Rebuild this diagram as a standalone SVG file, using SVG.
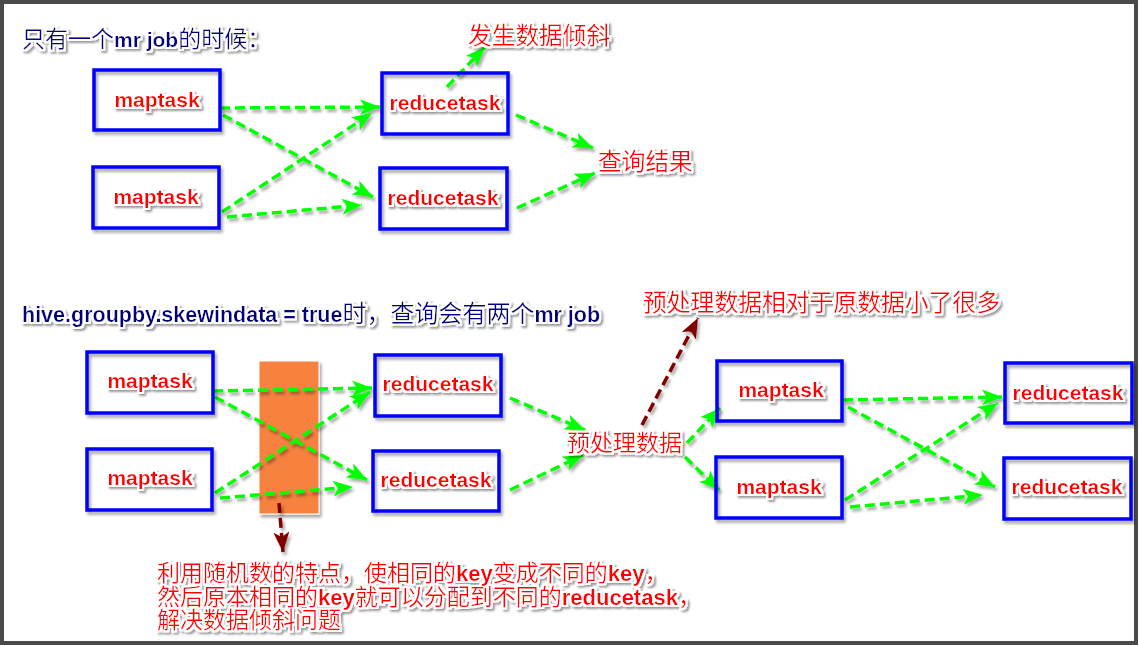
<svg xmlns="http://www.w3.org/2000/svg" width="1139" height="646" viewBox="0 0 1139 646">
<defs>
<style>
.frame{fill:#fff;stroke:#4a4a4a;stroke-width:4}
.box{fill:none;stroke:#0000ff;stroke-width:3.5}
.lbl{font-family:"Liberation Sans","Noto Sans CJK SC",sans-serif;font-weight:bold;font-size:21px;fill:#ff0000;text-anchor:middle}
.cn{font-family:"Noto Sans CJK SC","Liberation Sans",sans-serif;font-size:23px;fill:#ff0000}
.ttl{font-family:"Noto Sans CJK SC","Liberation Sans",sans-serif;font-size:23px;fill:#000080}
.lat{font-family:"Liberation Sans","Noto Sans CJK SC",sans-serif;font-weight:bold;font-size:21px}
.g{fill:none;stroke:#00ff00;stroke-width:3.5;stroke-dasharray:10 5;marker-end:url(#ga)}
.r{fill:none;stroke:#800000;stroke-width:3.5;stroke-dasharray:10 5;marker-end:url(#ra)}
</style>
<filter id="glow" x="-20%" y="-50%" width="140%" height="200%">
<feMorphology in="SourceAlpha" operator="dilate" radius="1.6" result="d"/>
<feGaussianBlur in="d" stdDeviation="0.7" result="db"/>
<feOffset in="db" dx="1.5" dy="1.8" result="sh"/>
<feGaussianBlur in="sh" stdDeviation="1.2" result="shb"/>
<feFlood flood-color="#000" flood-opacity="0.4"/>
<feComposite in2="shb" operator="in" result="shadow"/>
<feFlood flood-color="#fff"/>
<feComposite in2="db" operator="in" result="halo"/>
<feMerge><feMergeNode in="shadow"/><feMergeNode in="halo"/><feMergeNode in="SourceGraphic"/></feMerge>
</filter>
<filter id="sh" x="-10%" y="-10%" width="130%" height="130%">
<feGaussianBlur in="SourceAlpha" stdDeviation="1.5"/>
<feOffset dx="2" dy="2.5" result="o"/>
<feFlood flood-color="#000" flood-opacity="0.35"/>
<feComposite in2="o" operator="in"/>
<feMerge><feMergeNode/><feMergeNode in="SourceGraphic"/></feMerge>
</filter>
<marker id="ga" markerUnits="userSpaceOnUse" markerWidth="20" markerHeight="16" viewBox="0 0 20 16" refX="20" refY="8" orient="auto">
<path d="M0,0 L20,8 L0,16 L5,8 Z" fill="#00ff00"/>
</marker>
<marker id="ra" markerUnits="userSpaceOnUse" markerWidth="20" markerHeight="16" viewBox="0 0 20 16" refX="20" refY="8" orient="auto">
<path d="M0,0 L20,8 L0,16 L5,8 Z" fill="#800000"/>
</marker>
</defs>
<rect class="frame" x="2" y="2" width="1134" height="641"/>

<g id="title1" filter="url(#glow)">
<text class="ttl" x="22" y="47">只有一个<tspan class="lat">mr job</tspan>的时候：</text>
</g>
<g id="title2" filter="url(#glow)">
<text class="ttl" x="22" y="322" style="font-size:24px"><tspan class="lat" style="font-size:21.5px">hive.groupby.skewindata = true</tspan>时，查询会有两个<tspan class="lat" style="font-size:21.5px">mr job</tspan></text>
</g>

<g id="skew-box">
<rect x="259" y="361" width="60" height="153" fill="#f7823f" stroke="#fff" stroke-width="1" filter="url(#sh)"/>
</g>

<g id="connectors" filter="url(#sh)">
<path class="g" d="M220,108 L380,107"/>
<path class="g" d="M223,115 L373,197"/>
<path class="g" d="M222,212 L372,113"/>
<path class="g" d="M227,217 L362,205"/>
<path class="g" d="M447,87 L485,47"/>
<path class="g" d="M516,115 L593,148"/>
<path class="g" d="M517,208 L595,173"/>

<path class="g" d="M213,391 L372,388"/>
<path class="g" d="M215,397 L367,480"/>
<path class="g" d="M215,493 L370,392"/>
<path class="g" d="M220,498 L353,487"/>
<path class="g" d="M510,398 L585,430"/>
<path class="g" d="M510,490 L583,455"/>
<path class="g" d="M687,443 L720,408"/>
<path class="g" d="M685,457 L719,490"/>
<path class="g" d="M843,400 L1002,397"/>
<path class="g" d="M848,407 L995,487"/>
<path class="g" d="M845,500 L998,403"/>
<path class="g" d="M850,507 L983,495"/>
<path class="r" d="M642,425 L698,318"/>
<path class="r" d="M279,503 L283,552"/>
</g>

<g id="map1"><rect class="box" x="94" y="70" width="126" height="60" filter="url(#sh)"/><text class="lbl" x="157" y="107" filter="url(#glow)">maptask</text></g>
<g id="map2"><rect class="box" x="93" y="167" width="126" height="61" filter="url(#sh)"/><text class="lbl" x="156" y="204" filter="url(#glow)">maptask</text></g>
<g id="red1"><rect class="box" x="382" y="73" width="126" height="61" filter="url(#sh)"/><text class="lbl" x="445" y="110" filter="url(#glow)">reducetask</text></g>
<g id="red2"><rect class="box" x="380" y="168" width="127" height="61" filter="url(#sh)"/><text class="lbl" x="443" y="205" filter="url(#glow)">reducetask</text></g>
<g id="skew-label" filter="url(#glow)"><text class="cn" x="468" y="44" style="font-size:23.7px">发生数据倾斜</text></g>
<g id="result" filter="url(#glow)"><text class="cn" x="598" y="170" style="font-size:23.7px">查询结果</text></g>

<g id="mapA"><rect class="box" x="87" y="352" width="126" height="61" filter="url(#sh)"/><text class="lbl" x="150" y="388" filter="url(#glow)">maptask</text></g>
<g id="mapB"><rect class="box" x="87" y="449" width="125" height="61" filter="url(#sh)"/><text class="lbl" x="150" y="485" filter="url(#glow)">maptask</text></g>
<g id="redA"><rect class="box" x="375" y="355" width="126" height="61" filter="url(#sh)"/><text class="lbl" x="438" y="391" filter="url(#glow)">reducetask</text></g>
<g id="redB"><rect class="box" x="373" y="451" width="126" height="60" filter="url(#sh)"/><text class="lbl" x="436" y="487" filter="url(#glow)">reducetask</text></g>
<g id="pre" filter="url(#glow)"><text class="cn" x="567" y="451">预处理数据</text></g>
<g id="pre-note" filter="url(#glow)"><text class="cn" x="643" y="311" style="font-size:23.8px">预处理数据相对于原数据小了很多</text></g>
<g id="mapC"><rect class="box" x="717" y="361" width="125" height="60" filter="url(#sh)"/><text class="lbl" x="781" y="397" filter="url(#glow)">maptask</text></g>
<g id="mapD"><rect class="box" x="716" y="457" width="126" height="61" filter="url(#sh)"/><text class="lbl" x="779" y="494" filter="url(#glow)">maptask</text></g>
<g id="redC"><rect class="box" x="1005" y="363" width="127" height="60" filter="url(#sh)"/><text class="lbl" x="1068" y="400" filter="url(#glow)">reducetask</text></g>
<g id="redD"><rect class="box" x="1004" y="458" width="127" height="61" filter="url(#sh)"/><text class="lbl" x="1067" y="494" filter="url(#glow)">reducetask</text></g>

<g id="explain" filter="url(#glow)">
<text class="cn" x="157" y="581">利用随机数的特点，使相同的<tspan class="lat" style="font-size:22px">key</tspan>变成不同的<tspan class="lat" style="font-size:22px">key</tspan>，</text>
<text class="cn" x="157" y="604.5">然后原本相同的<tspan class="lat" style="font-size:22px">key</tspan>就可以分配到不同的<tspan class="lat" style="font-size:22px">reducetask</tspan>，</text>
<text class="cn" x="157" y="628">解决数据倾斜问题</text>
</g>
</svg>
